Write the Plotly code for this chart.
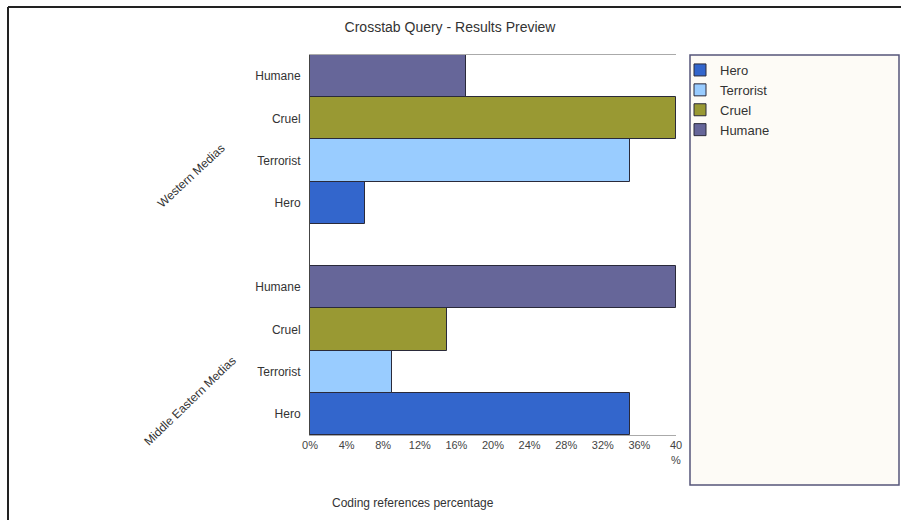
import plotly.graph_objects as go

# ---- data ----
groups = ["Western Medias", "Middle Eastern Medias"]
codes = ["Hero", "Terrorist", "Cruel", "Humane"]
western = [6, 35, 40, 17]
middle_eastern = [35, 9, 15, 40]
colors = ["#3366cc", "#99ccff", "#999933", "#666699"]
x_tick_vals = [0, 4, 8, 12, 16, 20, 24, 28, 32, 36, 40]
x_tick_text = ["0%", "4%", "8%", "12%", "16%", "20%", "24%", "28%", "32%", "36%", "40<br>%"]

# slot positions: Middle Eastern at 0..3 (bottom), gap at 4, Western at 5..8
n = len(codes)
me_pos = list(range(n))
we_pos = [n + 1 + i for i in range(n)]

fig = go.Figure()
for i, code in enumerate(codes):
    fig.add_trace(go.Bar(
        x=[western[i], middle_eastern[i]],
        y=[we_pos[i], me_pos[i]],
        orientation="h",
        name=code,
        width=1,
        marker=dict(color=colors[i], line=dict(color="#2a2a3a", width=1)),
    ))

W, H = 901, 520
L, R, T, B = 310, 225, 55, 85
pw, ph = W - L - R, H - T - B

def px(xp):
    return (xp - L) / pw

def py(yp):
    return (H - B - yp) / ph

fig.update_layout(
    width=W, height=H,
    margin=dict(l=L, r=R, t=T, b=B, autoexpand=False),
    paper_bgcolor="white", plot_bgcolor="white",
    font=dict(family="Liberation Sans, Arial, sans-serif", size=12, color="#333"),
    showlegend=True,
    bargap=0,
    title=dict(text="Crosstab Query - Results Preview", xref="container", x=450 / W,
               xanchor="center", yref="container", y=1 - 27 / H, yanchor="middle",
               font=dict(size=14, color="#333")),
    legend=dict(x=px(680), y=py(55), xanchor="left", yanchor="top",
                bgcolor="rgba(0,0,0,0)", font=dict(size=13, color="#333"),
                traceorder="normal", itemwidth=30),
    xaxis=dict(range=[0, 40], tickvals=x_tick_vals, ticktext=x_tick_text,
               showgrid=False, zeroline=False, showline=True, linecolor="#aaaaaa",
               linewidth=1, mirror=True, ticks="", tickfont=dict(size=11, color="#444")),
    yaxis=dict(range=[-0.5, 2 * n + 0.5], tickvals=we_pos + me_pos, ticktext=codes + codes,
               showgrid=False, zeroline=False, showline=True, linecolor="#444",
               linewidth=1, ticks="", ticklabelstandoff=6, tickfont=dict(size=12, color="#333")),
    shapes=[
        dict(type="rect", xref="paper", yref="paper", x0=px(690), x1=px(899),
             y0=py(485), y1=py(55), line=dict(color="#55557a", width=1.5),
             fillcolor="#fdfbf6", layer="below"),
        dict(type="line", xref="paper", yref="paper", x0=px(8), x1=px(8),
             y0=py(7), y1=py(520), line=dict(color="#222", width=2)),
        dict(type="line", xref="paper", yref="paper", x0=px(8), x1=px(901),
             y0=py(7), y1=py(7), line=dict(color="#222", width=2)),
    ],
    annotations=[
        dict(text="Coding references percentage", xref="paper", yref="paper",
             x=px(413), y=py(503), xanchor="center", yanchor="middle",
             showarrow=False, font=dict(size=12, color="#333")),
        dict(text=groups[0], xref="paper", yref="paper", x=px(191), y=py(176),
             xanchor="center", yanchor="middle",
             showarrow=False, textangle=-43, font=dict(size=12, color="#333")),
        dict(text=groups[1], xref="paper", yref="paper", x=px(190), y=py(401),
             xanchor="center", yanchor="middle",
             showarrow=False, textangle=-44, font=dict(size=12, color="#333")),
    ],
)

fig.write_html("out.html")
